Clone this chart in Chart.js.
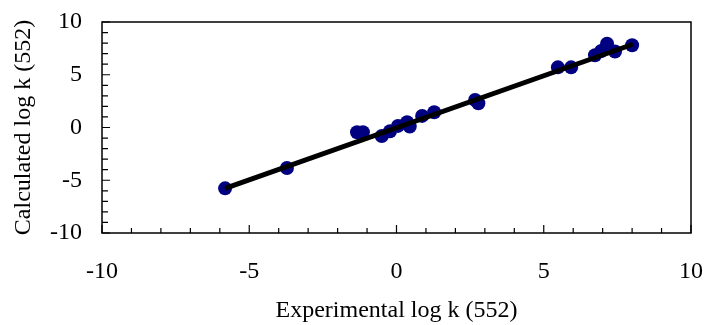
<!DOCTYPE html>
<html>
<head>
<meta charset="utf-8">
<script src="https://cdn.jsdelivr.net/npm/chart.js@4"></script>
<style>
  html, body { margin: 0; padding: 0; background: #fff; }
  #wrap { width: 706px; height: 325px; }
</style>
</head>
<body>
<div id="wrap"><canvas id="chart" width="706" height="325"></canvas></div>
<script>
// experimental vs calculated log k (552)
const expLogK = [-5.82, -3.72, -1.34, -1.14, -0.5, -0.22, 0.05, 0.36, 0.45, 0.87, 1.28,
  2.67, 2.78, 5.48, 5.93, 6.74, 6.95, 7.15, 7.42, 8.0];
const calcLogK = [-5.77, -3.84, -0.45, -0.45, -0.8, -0.35, 0.15, 0.5, 0.1, 1.1, 1.45,
  2.6, 2.3, 5.7, 5.7, 6.85, 7.25, 7.95, 7.2, 7.8];
// regression line end points
const fitX = [-5.82, 8.03];
const fitY = [-5.77, 7.89];

const axisMin = -10;
const axisMax = 10;
const majorStep = 5;
const minorStep = 1;

const serif = "'Liberation Serif', 'Times New Roman', serif";

const points = expLogK.map((x, i) => ({ x: x, y: calcLogK[i] }));
const fitLine = fitX.map((x, i) => ({ x: x, y: fitY[i] }));

// frame plus inward tick marks like the original
const frameTicks = {
  id: 'frameTicks',
  beforeDatasetsDraw(chart) {
    const { ctx, chartArea: a, scales: { x, y } } = chart;
    ctx.save();
    ctx.strokeStyle = '#000';
    ctx.lineWidth = 1.5;
    ctx.strokeRect(a.left, a.top, a.right - a.left, a.bottom - a.top);
    ctx.lineWidth = 1.2;
    ctx.beginPath();
    for (let v = axisMin; v <= axisMax; v += minorStep) {
      const major = v % majorStep === 0;
      const px = x.getPixelForValue(v);
      ctx.moveTo(px, a.bottom);
      ctx.lineTo(px, a.bottom - (major ? 8 : 5));
      const py = y.getPixelForValue(v);
      ctx.moveTo(a.left, py);
      ctx.lineTo(a.left + (major ? 8 : 6), py);
    }
    ctx.stroke();
    ctx.restore();
  }
};

new Chart(document.getElementById('chart').getContext('2d'), {
  type: 'scatter',
  data: {
    datasets: [{
      type: 'line',
      label: 'fit',
      data: fitLine,
      borderColor: '#000',
      borderWidth: 5,
      pointRadius: 0,
      fill: false,
      order: 0
    }, {
      label: 'log k',
      data: points,
      backgroundColor: '#000080',
      borderColor: '#000080',
      borderWidth: 0,
      pointRadius: 7,
      order: 1
    }]
  },
  options: {
    responsive: false,
    animation: false,
    layout: { padding: { top: 22, right: 15, left: 0, bottom: 0 } },
    plugins: {
      legend: { display: false },
      tooltip: { enabled: false }
    },
    scales: {
      x: {
        type: 'linear',
        min: axisMin,
        max: axisMax,
        grid: { display: false, drawTicks: false },
        border: { display: false },
        ticks: {
          stepSize: majorStep,
          padding: 24,
          color: '#000',
          font: { family: serif, size: 24 }
        },
        title: {
          display: true,
          text: 'Experimental log k (552)',
          color: '#000',
          font: { family: serif, size: 24 },
          padding: { top: 0, bottom: 0 }
        },
        afterFit(scale) {
          scale.height = 92;
          scale.paddingLeft = 0;
          scale.paddingRight = 0;
        }
      },
      y: {
        type: 'linear',
        min: axisMin,
        max: axisMax,
        grid: { display: false, drawTicks: false },
        border: { display: false },
        ticks: {
          stepSize: majorStep,
          padding: 20,
          color: '#000',
          font: { family: serif, size: 24 }
        },
        title: {
          display: true,
          text: 'Calculated log k (552)',
          color: '#000',
          font: { family: serif, size: 24 },
          padding: { top: 9, bottom: 0 }
        },
        afterFit(scale) {
          scale.width = 102;
          scale.paddingTop = 0;
          scale.paddingBottom = 0;
        }
      }
    }
  },
  plugins: [frameTicks]
});
</script>
</body>
</html>
